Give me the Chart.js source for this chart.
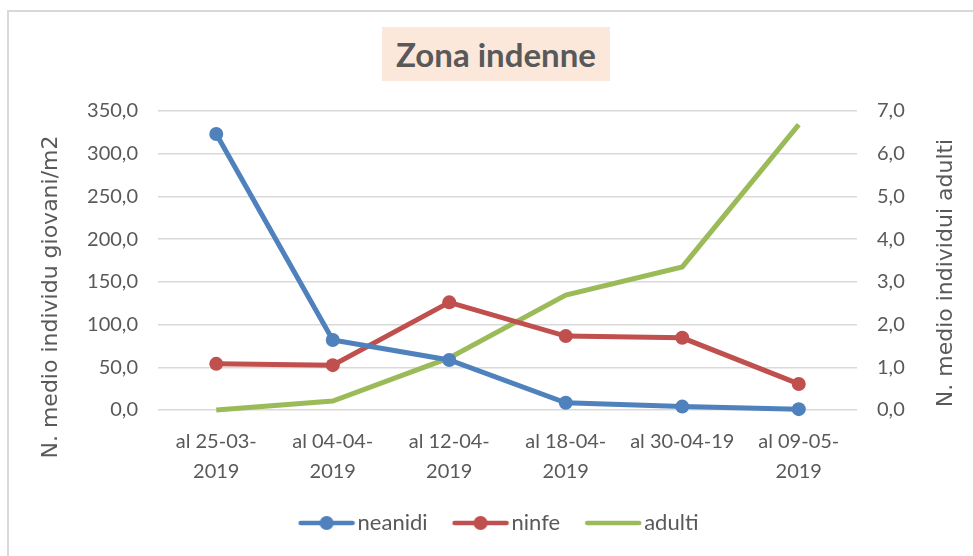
<!DOCTYPE html>
<html>
<head>
<meta charset="utf-8">
<script src="https://cdn.jsdelivr.net/npm/chart.js@4"></script>
<style>
  html, body { margin: 0; padding: 0; background: #fff; overflow: hidden; }
  #frame {
    position: absolute; left: 7px; top: 10px; width: 1000px; height: 600px;
    border: 2px solid #d9d9d9; box-sizing: border-box;
  }
  #wrap { position: absolute; left: 0; top: 0; width: 973px; height: 556px; }
  #title {
    position: absolute; left: 382px; top: 27px; width: 228px; height: 54px;
    background: #fce8da; color: #595959;
    font: bold 33px Lato, sans-serif;
    display: flex; align-items: center; justify-content: center;
  }
</style>
</head>
<body>
<div id="frame"></div>
<div id="wrap"><canvas id="chart"></canvas></div>
<div id="title">Zona indenne</div>
<script>
// === Data ===
const categories = [
  ['al 25-03-', '2019'],
  ['al 04-04-', '2019'],
  ['al 12-04-', '2019'],
  ['al 18-04-', '2019'],
  'al 30-04-19',
  ['al 09-05-', '2019']
];
const neanidi = [323.0, 82.0, 58.5, 8.5, 4.0, 1.0];
const ninfe = [54.0, 52.5, 126.0, 86.5, 84.5, 30.5];
const adulti = [0.0, 0.21, 1.22, 2.69, 3.35, 6.68];

const leftTitle = 'N. medio individu giovani/m2';
const rightTitle = 'N. medio individui adulti';

const BLUE = '#4f81bd';
const RED = '#c0504d';
const GREEN = '#9bbb59';
const TEXT = '#595959';

// === Legend symbols (line with optional dot) ===
function legendSymbol(color, withDot) {
  const c = document.createElement('canvas');
  c.width = 58;
  c.height = 16;
  const ctx = c.getContext('2d');
  ctx.strokeStyle = color;
  ctx.lineWidth = 4.5;
  ctx.lineCap = 'round';
  ctx.beginPath();
  ctx.moveTo(3, 8);
  ctx.lineTo(55, 8);
  ctx.stroke();
  if (withDot) {
    ctx.fillStyle = color;
    ctx.beginPath();
    ctx.arc(29, 8, 7, 0, Math.PI * 2);
    ctx.fill();
  }
  return c;
}

const fmt = v => Number(v).toFixed(1).replace('.', ',');

// axis titles drawn reading bottom-to-top on both sides
const axisTitles = {
  id: 'axisTitles',
  afterDraw(chart) {
    const ctx = chart.ctx;
    [[leftTitle, 51, 297], [rightTitle, 946, 273]].forEach(([txt, x, y]) => {
      ctx.save();
      ctx.fillStyle = TEXT;
      ctx.font = '22px "DejaVu Sans"';
      ctx.textAlign = 'center';
      ctx.textBaseline = 'middle';
      ctx.translate(x, y);
      ctx.rotate(-Math.PI / 2);
      ctx.fillText(txt, 0, 0);
      ctx.restore();
    });
  }
};

new Chart(document.getElementById('chart'), {
  type: 'line',
  data: {
    labels: categories,
    datasets: [
      {
        label: 'neanidi',
        data: neanidi,
        borderColor: BLUE,
        backgroundColor: BLUE,
        borderWidth: 5,
        pointRadius: 7,
        pointBorderWidth: 0,
        pointStyle: 'circle',
        yAxisID: 'y',
        clip: false
      },
      {
        label: 'ninfe',
        data: ninfe,
        borderColor: RED,
        backgroundColor: RED,
        borderWidth: 5,
        pointRadius: 7,
        pointBorderWidth: 0,
        pointStyle: 'circle',
        yAxisID: 'y',
        clip: false
      },
      {
        label: 'adulti',
        data: adulti,
        borderColor: GREEN,
        backgroundColor: GREEN,
        borderWidth: 5,
        pointRadius: 0,
        yAxisID: 'y1',
        clip: false
      }
    ]
  },
  options: {
    responsive: true,
    maintainAspectRatio: false,
    animation: false,
    layout: { padding: { left: 32, right: 0, top: 111, bottom: 12 } },
    plugins: {
      title: { display: false },
      tooltip: { enabled: false },
      legend: {
        position: 'bottom',
        labels: {
          usePointStyle: true,
          pointStyleWidth: 40,
          padding: 33,
          color: TEXT,
          font: { family: 'Lato', size: 22 },
          generateLabels(chart) {
            const syms = [legendSymbol(BLUE, true), legendSymbol(RED, true), legendSymbol(GREEN, false)];
            return chart.data.datasets.map((ds, i) => ({
              text: ds.label,
              pointStyle: syms[i],
              fontColor: TEXT,
              datasetIndex: i,
              hidden: false,
              lineWidth: 0
            }));
          }
        }
      }
    },
    scales: {
      x: {
        offset: true,
        grid: { display: false, drawTicks: false },
        border: { display: false },
        ticks: {
          color: TEXT,
          padding: 17,
          maxRotation: 0,
          autoSkip: false,
          font: { family: 'Lato', size: 20, lineHeight: 1.5 }
        },
        afterFit(scale) { scale.height = 69; }
      },
      y: {
        position: 'left',
        min: 0,
        max: 350,
        grid: { color: '#d9d9d9', lineWidth: 1.5, drawTicks: false },
        border: { display: false },
        ticks: {
          stepSize: 50,
          padding: 20,
          color: TEXT,
          font: { family: 'Lato', size: 20 },
          callback: v => fmt(v)
        },
        afterFit(scale) { scale.width = 126; }
      },
      y1: {
        position: 'right',
        min: 0,
        max: 7,
        grid: { display: false, drawTicks: false },
        border: { display: false },
        ticks: {
          stepSize: 1,
          padding: 20,
          color: TEXT,
          font: { family: 'Lato', size: 20 },
          callback: v => fmt(v)
        },
        afterFit(scale) { scale.width = 116; }
      }
    }
  },
  plugins: [axisTitles]
});
</script>
</body>
</html>
